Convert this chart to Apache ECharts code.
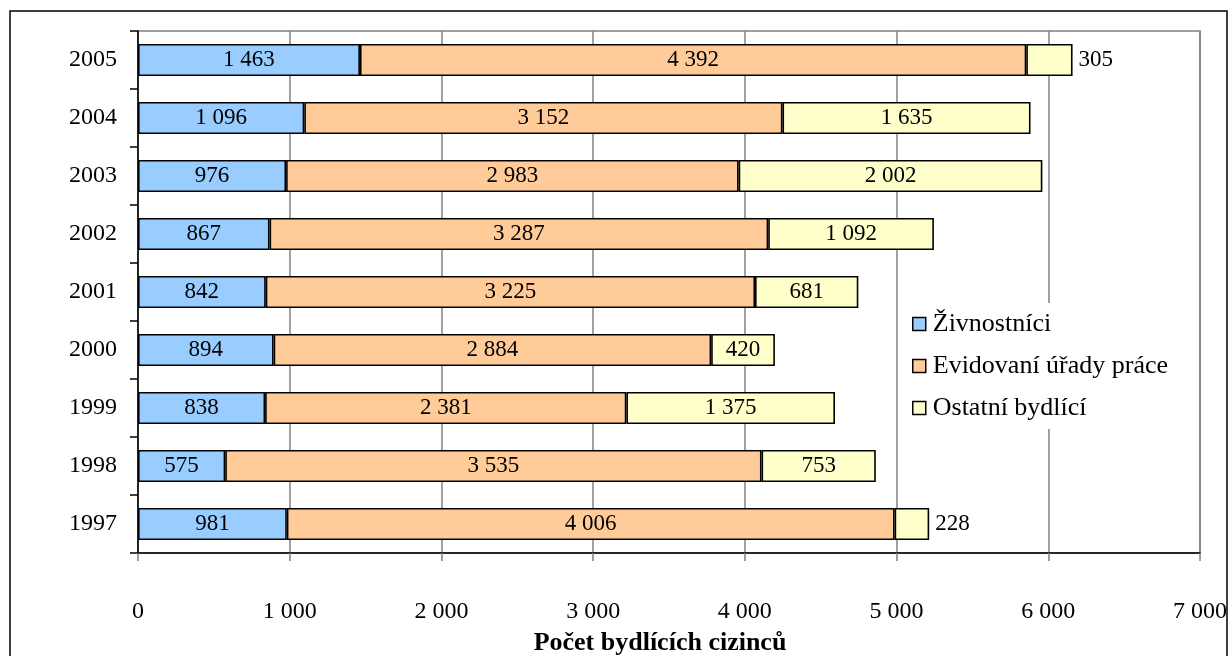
<!DOCTYPE html>
<html><head><meta charset="utf-8">
<script src="https://cdn.jsdelivr.net/npm/echarts@6/dist/echarts.min.js"></script>
<style>html,body{margin:0;padding:0;background:#fff}#c{width:1229px;height:656px}</style>
</head><body><div id="c"></div>
<script>
const years = ['1997','1998','1999','2000','2001','2002','2003','2004','2005'];
const zivnostnici = [981, 575, 838, 894, 842, 867, 976, 1096, 1463];
const evidovani = [4006, 3535, 2381, 2884, 3225, 3287, 2983, 3152, 4392];
const ostatni = [228, 753, 1375, 420, 681, 1092, 2002, 1635, 305];
const outsideLabels = ['1997', '2005'];
const xTicks = [0, 1000, 2000, 3000, 4000, 5000, 6000, 7000];

const F = '"Liberation Serif","Times New Roman",serif';
const fmt = v => String(v).replace(/\B(?=(\d{3})+(?!\d))/g, ' ');
const chart = echarts.init(document.getElementById('c'), null, {renderer: 'canvas'});
const lbl = {show: true, position: 'inside', fontFamily: F, fontSize: 23, color: '#000', formatter: p => fmt(p.value)};
const mk = (name, data, color) => ({
  name, type: 'bar', stack: 't', barWidth: 32, data: data.map((v, i) => {
    const o = {value: v};
    if (name === 'Ostatní bydlící' && outsideLabels.includes(years[i])) o.label = {position: 'right', distance: 6};
    return o;
  }),
  itemStyle: {color, borderColor: '#000', borderWidth: 1.6},
  label: lbl
});
chart.setOption({
  animation: false,
  graphic: [{type: 'rect', shape: {x: 10, y: 11, width: 1217, height: 700}, style: {fill: 'none', stroke: '#000', lineWidth: 1.5}, z: -1},
            {type: 'rect', shape: {x: 138, y: 31, width: 1062, height: 522}, style: {fill: 'none', stroke: '#808080', lineWidth: 1.5}, z: 0}],
  grid: {left: 138, right: 29, top: 31, bottom: 103, containLabel: false, outerBoundsMode: 'none'},
  legend: {
    orient: 'vertical', left: 908, top: 303, itemWidth: 13, itemHeight: 13, itemGap: 16,
    backgroundColor: '#fff', padding: [8, 8, 8, 4],
    textStyle: {fontFamily: F, fontSize: 26, color: '#000', padding: [0, 0, 0, 2]},
    icon: 'rect',
    itemStyle: {borderColor: '#000', borderWidth: 1.5},
    data: ['Živnostníci', 'Evidovaní úřady práce', 'Ostatní bydlící']
  },
  xAxis: {
    type: 'value', min: 0, max: 7000, interval: 1000,
    name: 'Počet bydlících cizinců', nameLocation: 'middle', nameGap: 77,
    nameTextStyle: {fontFamily: F, fontSize: 26, fontWeight: 'bold', color: '#000', padding: [0, 18, 0, 0]},
    axisLine: {show: true, lineStyle: {color: '#000', width: 1.5}},
    axisTick: {show: true, length: 8, lineStyle: {color: '#808080', width: 1.5}},
    axisLabel: {fontFamily: F, fontSize: 24, color: '#000', margin: 47, formatter: v => fmt(v)},
    splitLine: {show: true, lineStyle: {color: '#808080', width: 1.5}}
  },
  yAxis: {
    type: 'category', data: years,
    axisLine: {show: true, lineStyle: {color: '#000', width: 1.5}},
    axisTick: {show: true, length: 8, lineStyle: {color: '#000', width: 1.5}},
    axisLabel: {fontFamily: F, fontSize: 24, color: '#000', margin: 21}
  },
  series: [
    mk('Živnostníci', zivnostnici, '#99CCFF'),
    mk('Evidovaní úřady práce', evidovani, '#FFCC99'),
    mk('Ostatní bydlící', ostatni, '#FFFFCC')
  ]
});
</script></body></html>
